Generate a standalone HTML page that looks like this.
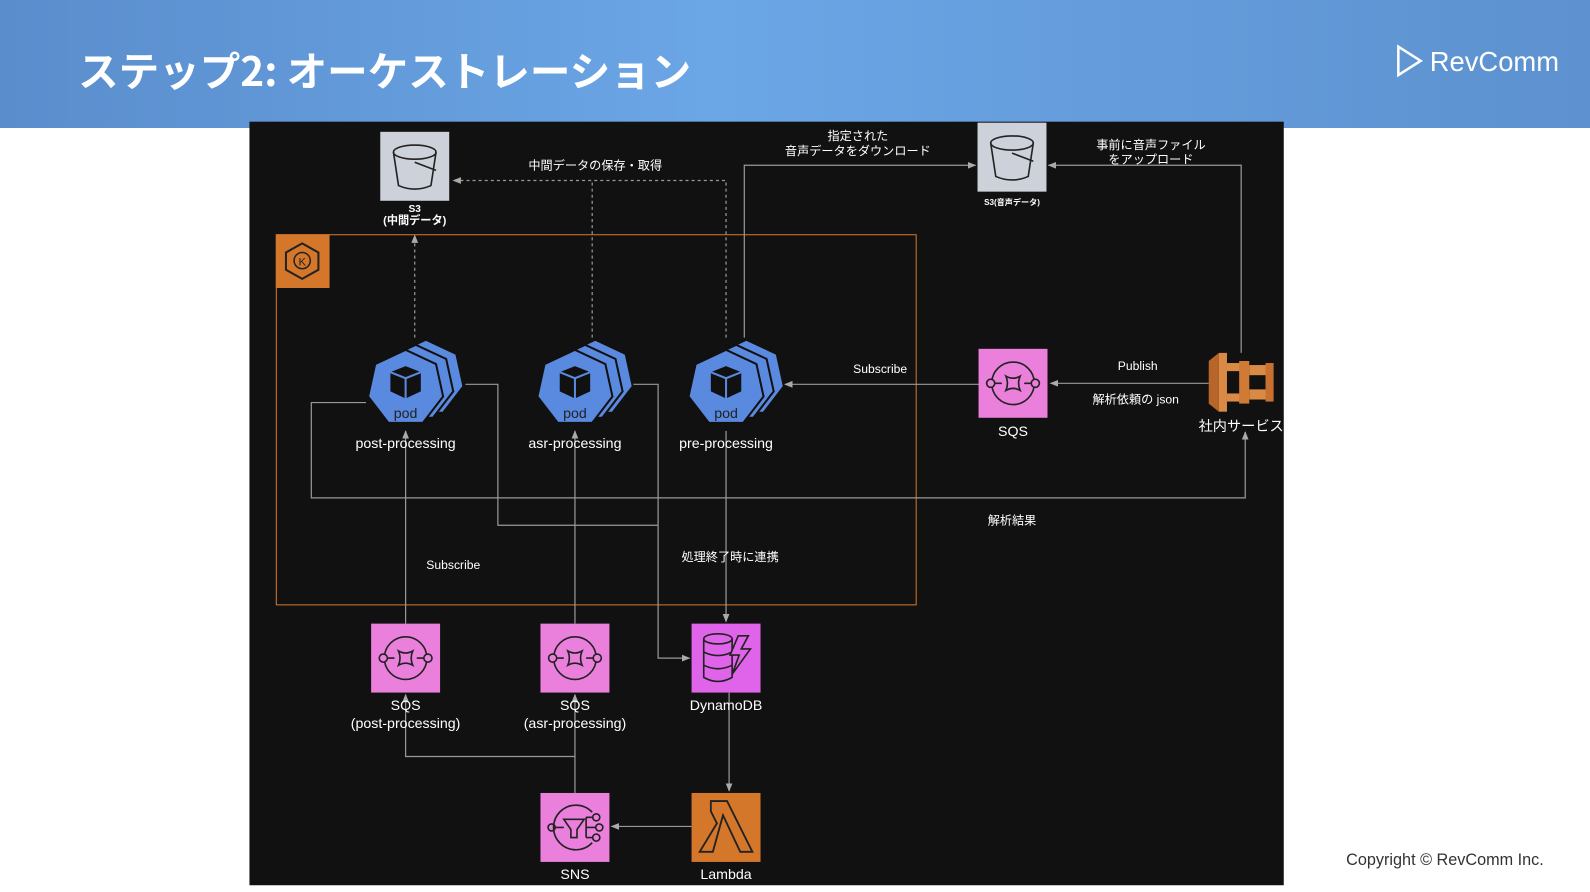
<!DOCTYPE html>
<html><head><meta charset="utf-8"><style>
html,body{margin:0;padding:0;width:1590px;height:892px;overflow:hidden;background:#fff}
svg{display:block}
text{font-family:"Liberation Sans","Noto Sans CJK JP",sans-serif}
</style></head><body>
<svg width="1590" height="892" viewBox="0 0 1590 892" xmlns="http://www.w3.org/2000/svg">
<defs>
<linearGradient id="hg" x1="0" x2="1" y1="0" y2="0">
<stop offset="0" stop-color="#5a8dcc"/><stop offset="0.45" stop-color="#6ba6e6"/><stop offset="1" stop-color="#5d91cf"/>
</linearGradient>
<marker id="ar" viewBox="0 0 10 10" refX="9" refY="5" markerWidth="7" markerHeight="7" orient="auto-start-reverse"><path d="M0,1 L10,5 L0,9 z" fill="#aaa"/></marker>
<g id="pod">
<polygon points="0,-38 30,-24 37,8 17,34 -17,34 -37,8 -30,-24" fill="#5a8ae0" transform="translate(20,-10)" stroke="#111" stroke-width="2"/>
<polygon points="0,-38 30,-24 37,8 17,34 -17,34 -37,8 -30,-24" fill="#5a8ae0" transform="translate(10,-5)" stroke="#111" stroke-width="2"/>
<polygon points="0,-38 30,-24 37,8 17,34 -17,34 -37,8 -30,-24" fill="#5a8ae0" stroke="#111" stroke-width="2"/>
<polygon points="0,-22 15,-16 15,3 0,10 -15,3 -15,-16" fill="#111"/>
<path d="M-15,-16 L0,-10 L15,-16 M0,-10 L0,10" fill="none" stroke="#5a8ae0" stroke-width="2"/>
</g>
<g id="sqs">
<rect width="68" height="68" fill="#ea7fdc"/>
<circle cx="34" cy="34" r="21" fill="none" stroke="#222" stroke-width="1.6"/>
<rect x="22" y="24" width="24" height="20" fill="#ea7fdc"/>
<circle cx="12" cy="34" r="4" fill="#ea7fdc" stroke="#222" stroke-width="1.6"/>
<circle cx="56" cy="34" r="4" fill="#ea7fdc" stroke="#222" stroke-width="1.6"/>
<path d="M16,34 H23 M45,34 H52 M27,27 Q34,31 41,27 Q38,34 41,41 Q34,37 27,41 Q30,34 27,27 z" fill="none" stroke="#222" stroke-width="1.6"/>
</g>
<g id="bucket">
<rect width="68" height="68" fill="#cdd1da"/>
<ellipse cx="34" cy="20" rx="21" ry="7" fill="none" stroke="#222" stroke-width="1.6"/>
<path d="M13,20 L18,53 Q34,60 50,53 L55,20" fill="none" stroke="#222" stroke-width="1.6"/>
<path d="M34,30 L55,38" stroke="#222" stroke-width="1.6"/>
</g>
</defs>
<rect width="1590" height="128" fill="url(#hg)"/>
<g transform="scale(1.01403)">
<text x="77" y="85" font-size="40" font-weight="bold" fill="#fff" style="font-family:'Noto Sans CJK JP',sans-serif">ステップ2: オーケストレーション</text>
<path d="M1379,46 L1401,60 L1379,74 z" fill="none" stroke="#fff" stroke-width="2.5"/>
<text x="1410" y="70" font-size="27" fill="#fff">RevComm</text>
<text x="1425" y="853" font-size="16" fill="#333" text-anchor="middle">Copyright © RevComm Inc.</text>

<rect x="246" y="120" width="1020" height="753" fill="#111"/>
<rect x="272.5" y="231.5" width="631" height="365" fill="none" stroke="#d9782c" stroke-width="1"/>
<rect x="272" y="231" width="53" height="53" fill="#d4772a"/>
<polygon points="298,240 314,249 314,266 298,275 282,266 282,249" fill="none" stroke="#222" stroke-width="2"/>
<circle cx="298" cy="257" r="8" fill="none" stroke="#222" stroke-width="1.5"/>
<text x="298" y="262" font-size="11" text-anchor="middle" fill="#222">K</text>

<g stroke="#999" stroke-width="1.2" fill="none">
<path d="M409,333 V232" stroke-dasharray="3,3" marker-end="url(#ar)"/>
<path d="M584,333 V178 M716,333 V178 H447" stroke-dasharray="3,3" marker-end="url(#ar)"/>
<path d="M734,333 V163 H962" marker-end="url(#ar)"/>
<path d="M1224,348 V163 H1034" marker-end="url(#ar)"/>
<path d="M1192,378 H1036" marker-end="url(#ar)"/>
<path d="M965,379 H774" marker-end="url(#ar)"/>
<path d="M361,397 H307 V491 H1228 V426" marker-end="url(#ar)"/>
<path d="M459,379 H491 V518 H649"/>
<path d="M622,379 H649 V649 H680" marker-end="url(#ar)"/>
<path d="M716,425 V613" marker-end="url(#ar)"/>
<path d="M400,615 V425" marker-end="url(#ar)"/>
<path d="M567,615 V425" marker-end="url(#ar)"/>
<path d="M567,782 V685" marker-end="url(#ar)"/>
<path d="M567,746 H400 V685" marker-end="url(#ar)"/>
<path d="M719,683 V780" marker-end="url(#ar)"/>
<path d="M682,815 H603" marker-end="url(#ar)"/>
</g>

<use href="#bucket" x="375" y="130"/>
<text x="409" y="209" font-size="10" font-weight="bold" fill="#fff" text-anchor="middle">S3</text>
<text x="409" y="221" font-size="11" font-weight="bold" fill="#fff" text-anchor="middle">(中間データ)</text>
<use href="#bucket" x="964" y="121"/>
<text x="998" y="202" font-size="8" font-weight="bold" fill="#fff" text-anchor="middle">S3(音声データ)</text>

<use href="#pod" x="400" y="383"/>
<use href="#pod" x="567" y="383"/>
<use href="#pod" x="716" y="383"/>
<g font-size="14" fill="#222" text-anchor="middle">
<text x="400" y="412">pod</text><text x="567" y="412">pod</text><text x="716" y="412">pod</text></g>
<g font-size="14" fill="#fff" text-anchor="middle">
<text x="400" y="442">post-processing</text>
<text x="567" y="442">asr-processing</text>
<text x="716" y="442">pre-processing</text>
<text x="999" y="430">SQS</text>
<text x="1224" y="425">社内サービス</text>
<text x="400" y="700">SQS</text><text x="400" y="718">(post-processing)</text>
<text x="567" y="700">SQS</text><text x="567" y="718">(asr-processing)</text>
<text x="716" y="700">DynamoDB</text>
<text x="567" y="867">SNS</text>
<text x="716" y="867">Lambda</text>
</g>
<g font-size="12" fill="#fff" text-anchor="middle">
<text x="587" y="167">中間データの保存・取得</text>
<text x="846" y="138">指定された</text>
<text x="846" y="153">音声データをダウンロード</text>
<text x="1135" y="147">事前に音声ファイル</text>
<text x="1135" y="161">をアップロード</text>
<text x="1122" y="365">Publish</text>
<text x="1120" y="398">解析依頼の json</text>
<text x="868" y="368">Subscribe</text>
<text x="998" y="517">解析結果</text>
<text x="720" y="553">処理終了時に連携</text>
<text x="447" y="561">Subscribe</text>
</g>

<use href="#sqs" x="965" y="344"/>
<use href="#sqs" x="366" y="615"/>
<use href="#sqs" x="533" y="615"/>

<rect x="682" y="615" width="68" height="68" fill="#e064ea"/>
<g fill="none" stroke="#222" stroke-width="1.6">
<ellipse cx="708" cy="630" rx="14" ry="5"/>
<path d="M694,630 V668 Q708,676 722,668 V630 M694,643 Q708,650 722,643 M694,656 Q708,663 722,656"/>
<path d="M728,627 L720,646 H729 L722,665 L740,640 H731 L738,627 z" fill="#e064ea"/>
</g>

<rect x="533" y="782" width="68" height="68" fill="#ea7fdc"/>
<g fill="none" stroke="#222" stroke-width="1.6">
<path d="M584,801 A22,22 0 1 0 584,831"/>
<circle cx="544" cy="816" r="3.5"/>
<path d="M548,816 H556 M556,808 H576 L569,818 V826 H563 V818 z M578,816 H588 M578,806 V826 M578,806 H584 M578,826 H584"/>
<circle cx="588" cy="806" r="3.5"/><circle cx="591" cy="816" r="3.5"/><circle cx="588" cy="826" r="3.5"/>
</g>

<rect x="682" y="782" width="68" height="68" fill="#d4772a"/>
<path d="M701,790 H717 L742,840 H730 L713,804 L703,840 H690 L707,812 L701,800 z" fill="none" stroke="#222" stroke-width="1.8"/>

<g>
<polygon points="1192,356 1202,348 1202,406 1192,398" fill="#b8652a"/>
<rect x="1202" y="348" width="8" height="58" fill="#d98a45"/>
<rect x="1210" y="358" width="14" height="8" fill="#d98a45"/>
<rect x="1210" y="388" width="14" height="8" fill="#d98a45"/>
<rect x="1222" y="356" width="10" height="42" fill="#cf7a35"/>
<rect x="1232" y="360" width="18" height="10" fill="#d98a45"/>
<rect x="1232" y="384" width="18" height="10" fill="#d98a45"/>
<rect x="1248" y="358" width="8" height="38" fill="#c97030"/>
</g>
</g>
</svg>
</body></html>
